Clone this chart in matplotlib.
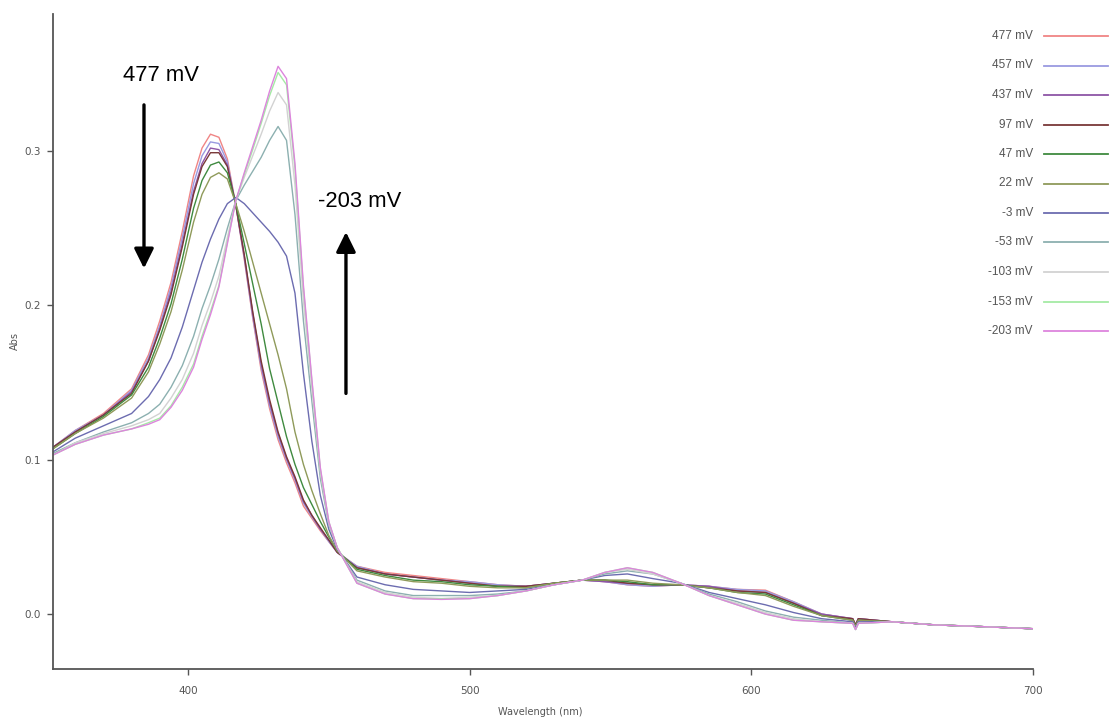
import matplotlib
matplotlib.use("Agg")
import matplotlib.pyplot as plt
from matplotlib.lines import Line2D

# ---------------- data ----------------
wavelength = [352, 360, 370, 380, 386, 390, 394, 398, 402, 405, 408, 411, 414, 417, 420,
              423, 426, 429, 432, 435, 438, 441, 444, 447, 450, 453, 460, 470, 480, 490,
              500, 510, 520, 530, 540, 548, 556, 565, 575, 585, 595, 605, 615, 625, 636,
              637, 638, 650, 665, 680, 700]

series_labels = ["477 mV", "457 mV", "437 mV", "97 mV", "47 mV", "22 mV",
                 "-3 mV", "-53 mV", "-103 mV", "-153 mV", "-203 mV"]

abs_477 = [0.108, 0.119, 0.130, 0.146, 0.168, 0.190, 0.215, 0.248, 0.284, 0.302, 0.311, 0.309, 0.295, 0.265, 0.230,
           0.192, 0.158, 0.133, 0.113, 0.098, 0.085, 0.070, 0.062, 0.054, 0.047, 0.040, 0.031, 0.027, 0.025, 0.023,
           0.021, 0.019, 0.018, 0.020, 0.022, 0.021, 0.019, 0.018, 0.019, 0.018, 0.016, 0.0155, 0.008, 0.000, -0.003,
           -0.007, -0.003, -0.005, -0.007, -0.008, -0.0095]
abs_457 = [0.108, 0.119, 0.129, 0.145, 0.166, 0.187, 0.212, 0.244, 0.279, 0.297, 0.306, 0.305, 0.293, 0.265, 0.231,
           0.193, 0.160, 0.135, 0.115, 0.100, 0.087, 0.072, 0.063, 0.055, 0.047, 0.040, 0.031, 0.026, 0.024, 0.022,
           0.021, 0.019, 0.018, 0.020, 0.022, 0.021, 0.019, 0.018, 0.019, 0.018, 0.016, 0.015, 0.008, 0.000, -0.003,
           -0.007, -0.003, -0.005, -0.007, -0.008, -0.0095]
abs_437 = [0.108, 0.118, 0.129, 0.144, 0.164, 0.185, 0.209, 0.240, 0.274, 0.292, 0.302, 0.301, 0.291, 0.265, 0.232,
           0.195, 0.162, 0.137, 0.117, 0.101, 0.088, 0.073, 0.064, 0.055, 0.048, 0.040, 0.030, 0.026, 0.024, 0.022,
           0.020, 0.018, 0.018, 0.020, 0.022, 0.021, 0.020, 0.019, 0.019, 0.018, 0.015, 0.014, 0.007, 0.000, -0.003,
           -0.007, -0.003, -0.005, -0.007, -0.008, -0.0095]
abs_97 = [0.108, 0.118, 0.129, 0.143, 0.164, 0.184, 0.207, 0.238, 0.272, 0.290, 0.299, 0.299, 0.290, 0.265, 0.233,
          0.196, 0.164, 0.139, 0.118, 0.102, 0.089, 0.074, 0.064, 0.056, 0.048, 0.040, 0.030, 0.026, 0.024, 0.022,
          0.020, 0.018, 0.018, 0.020, 0.022, 0.022, 0.020, 0.019, 0.019, 0.017, 0.015, 0.014, 0.007, -0.001, -0.003,
          -0.007, -0.003, -0.005, -0.007, -0.008, -0.0095]
abs_47 = [0.107, 0.117, 0.128, 0.142, 0.160, 0.179, 0.201, 0.230, 0.263, 0.281, 0.291, 0.293, 0.286, 0.266, 0.240,
          0.214, 0.188, 0.159, 0.137, 0.115, 0.097, 0.082, 0.071, 0.060, 0.050, 0.041, 0.029, 0.025, 0.022, 0.021,
          0.019, 0.018, 0.017, 0.020, 0.022, 0.022, 0.021, 0.019, 0.019, 0.017, 0.014, 0.013, 0.006, -0.001, -0.004,
          -0.008, -0.004, -0.005, -0.007, -0.008, -0.0095]
abs_22 = [0.107, 0.117, 0.127, 0.140, 0.157, 0.175, 0.196, 0.223, 0.254, 0.272, 0.283, 0.286, 0.282, 0.266, 0.248,
          0.228, 0.208, 0.188, 0.168, 0.146, 0.118, 0.097, 0.080, 0.065, 0.051, 0.041, 0.028, 0.024, 0.021, 0.020,
          0.018, 0.017, 0.017, 0.020, 0.022, 0.022, 0.022, 0.020, 0.019, 0.017, 0.014, 0.012, 0.005, -0.001, -0.004,
          -0.008, -0.004, -0.005, -0.007, -0.008, -0.0095]
abs_m3 = [0.105, 0.114, 0.122, 0.130, 0.141, 0.152, 0.166, 0.186, 0.210, 0.228, 0.243, 0.256, 0.266, 0.270, 0.266,
          0.260, 0.254, 0.248, 0.241, 0.232, 0.208, 0.156, 0.112, 0.077, 0.055, 0.042, 0.024, 0.019, 0.016, 0.015,
          0.014, 0.015, 0.016, 0.019, 0.022, 0.025, 0.026, 0.023, 0.020, 0.014, 0.010, 0.006, 0.001, -0.003, -0.005,
          -0.009, -0.005, -0.005, -0.007, -0.008, -0.0095]
abs_m53 = [0.104, 0.111, 0.118, 0.124, 0.130, 0.136, 0.147, 0.161, 0.180, 0.198, 0.213, 0.230, 0.250, 0.268, 0.278,
           0.287, 0.296, 0.307, 0.316, 0.307, 0.259, 0.190, 0.138, 0.088, 0.058, 0.043, 0.022, 0.015, 0.012, 0.012,
           0.012, 0.013, 0.015, 0.019, 0.022, 0.026, 0.028, 0.026, 0.020, 0.013, 0.008, 0.002, -0.002, -0.004, -0.006,
           -0.010, -0.006, -0.005, -0.007, -0.008, -0.0095]
abs_m103 = [0.103, 0.111, 0.117, 0.122, 0.126, 0.130, 0.140, 0.152, 0.169, 0.187, 0.202, 0.219, 0.244, 0.268, 0.283,
            0.297, 0.311, 0.326, 0.338, 0.330, 0.278, 0.203, 0.146, 0.092, 0.059, 0.043, 0.021, 0.014, 0.011, 0.010,
            0.011, 0.012, 0.015, 0.019, 0.022, 0.027, 0.029, 0.026, 0.020, 0.012, 0.007, 0.001, -0.003, -0.005, -0.006,
            -0.010, -0.006, -0.005, -0.007, -0.008, -0.0095]
abs_m153 = [0.103, 0.110, 0.116, 0.120, 0.124, 0.127, 0.135, 0.147, 0.162, 0.180, 0.196, 0.213, 0.241, 0.268, 0.285,
            0.301, 0.318, 0.336, 0.351, 0.343, 0.289, 0.211, 0.151, 0.094, 0.060, 0.043, 0.020, 0.013, 0.010, 0.010,
            0.010, 0.012, 0.015, 0.019, 0.022, 0.027, 0.030, 0.027, 0.020, 0.012, 0.006, 0.000, -0.004, -0.005, -0.006,
            -0.010, -0.006, -0.005, -0.007, -0.008, -0.0095]
abs_m203 = [0.103, 0.110, 0.116, 0.120, 0.123, 0.126, 0.134, 0.145, 0.160, 0.178, 0.194, 0.212, 0.240, 0.268, 0.286,
            0.303, 0.320, 0.339, 0.355, 0.347, 0.292, 0.213, 0.152, 0.095, 0.060, 0.043, 0.020, 0.013, 0.010, 0.0095,
            0.010, 0.012, 0.015, 0.019, 0.022, 0.027, 0.030, 0.027, 0.020, 0.012, 0.006, 0.000, -0.004, -0.005, -0.006,
            -0.010, -0.006, -0.005, -0.007, -0.008, -0.0095]

series_values = [abs_477, abs_457, abs_437, abs_97, abs_47, abs_22,
                 abs_m3, abs_m53, abs_m103, abs_m153, abs_m203]
series_colors = ["#f08585", "#9a9ae0", "#8e55a6", "#7a3838", "#3f8a3f", "#8f9a5a",
                 "#6c6cb0", "#8cb0b0", "#d2d2d2", "#a5eaa5", "#dd85dd"]

x_ticks = [400, 500, 600, 700]
y_ticks = [0.0, 0.1, 0.2, 0.3]

# ---------------- figure ----------------
W, H = 1110, 719
fig = plt.figure(figsize=(W / 100, H / 100), dpi=100)
fig.patch.set_facecolor("white")

def fx(px):
    return px / W

def fy(py):
    return 1 - py / H

ax = fig.add_axes([fx(53), fy(669), fx(1033) - fx(53), fy(14) - fy(669)])
ax.set_xlim(352.1, 700)
ax.set_ylim(-0.0356, 0.3889)

for vals, col in zip(series_values, series_colors):
    ax.plot(wavelength, vals, color=col, lw=1.0)

narrow = ["Liberation Sans Narrow", "DejaVu Sans"]
ax.spines["top"].set_visible(False)
ax.spines["right"].set_visible(False)
for s in ("left", "bottom"):
    ax.spines[s].set_color("#555555")
    ax.spines[s].set_linewidth(1.3)
ax.set_xticks(x_ticks)
ax.set_yticks(y_ticks)
ax.set_yticklabels([f"{v:.1f}" for v in y_ticks])
ax.tick_params(axis="both", direction="out", length=4, width=1, color="#555555",
               labelsize=7.5, labelcolor="#555555")
ax.tick_params(axis="x", pad=8)
ax.tick_params(axis="y", pad=5)
for lab in ax.get_xticklabels() + ax.get_yticklabels():
    lab.set_family(narrow)
ax.set_xlabel("Wavelength (nm)", fontsize=7, color="#555555", family=narrow)
ax.set_ylabel("Abs", fontsize=7, color="#555555", family=narrow)
ax.xaxis.set_label_coords((540 - 53) / 980, (669 - 712) / 655)
ax.yaxis.set_label_coords((15 - 53) / 980, 0.5)
ax.xaxis.label.set_va("center")
ax.yaxis.label.set_va("center")

# annotations
ann_font = ["Liberation Sans", "DejaVu Sans"]
ax.text(376.9, 0.349, "477 mV", fontsize=15.8, family=ann_font,
        ha="left", va="center", color="black")
ax.annotate("", xy=(384.4, 0.224), xytext=(384.4, 0.330),
            arrowprops=dict(arrowstyle="-|>,head_width=0.42,head_length=0.85",
                            lw=2.4, color="black", mutation_scale=14, shrinkA=0, shrinkB=0))
ax.text(446.2, 0.2677, "-203 mV", fontsize=15.8, family=ann_font,
        ha="left", va="center", color="black")
ax.annotate("", xy=(456.1, 0.2476), xytext=(456.1, 0.143),
            arrowprops=dict(arrowstyle="-|>,head_width=0.42,head_length=0.85",
                            lw=2.4, color="black", mutation_scale=14, shrinkA=0, shrinkB=0))

# legend (right side)
leg_y0, leg_dy = 36, 29.5
for i, (lab, col) in enumerate(zip(series_labels, series_colors)):
    yy = leg_y0 + i * leg_dy
    fig.text(fx(1033), fy(yy), lab, ha="right", va="center", fontsize=8.5,
             color="#555555", family=ann_font)
    fig.add_artist(Line2D([fx(1044), fx(1108)], [fy(yy), fy(yy)], color=col, lw=1.3))

fig.savefig("out.png", dpi=100, facecolor="white")
